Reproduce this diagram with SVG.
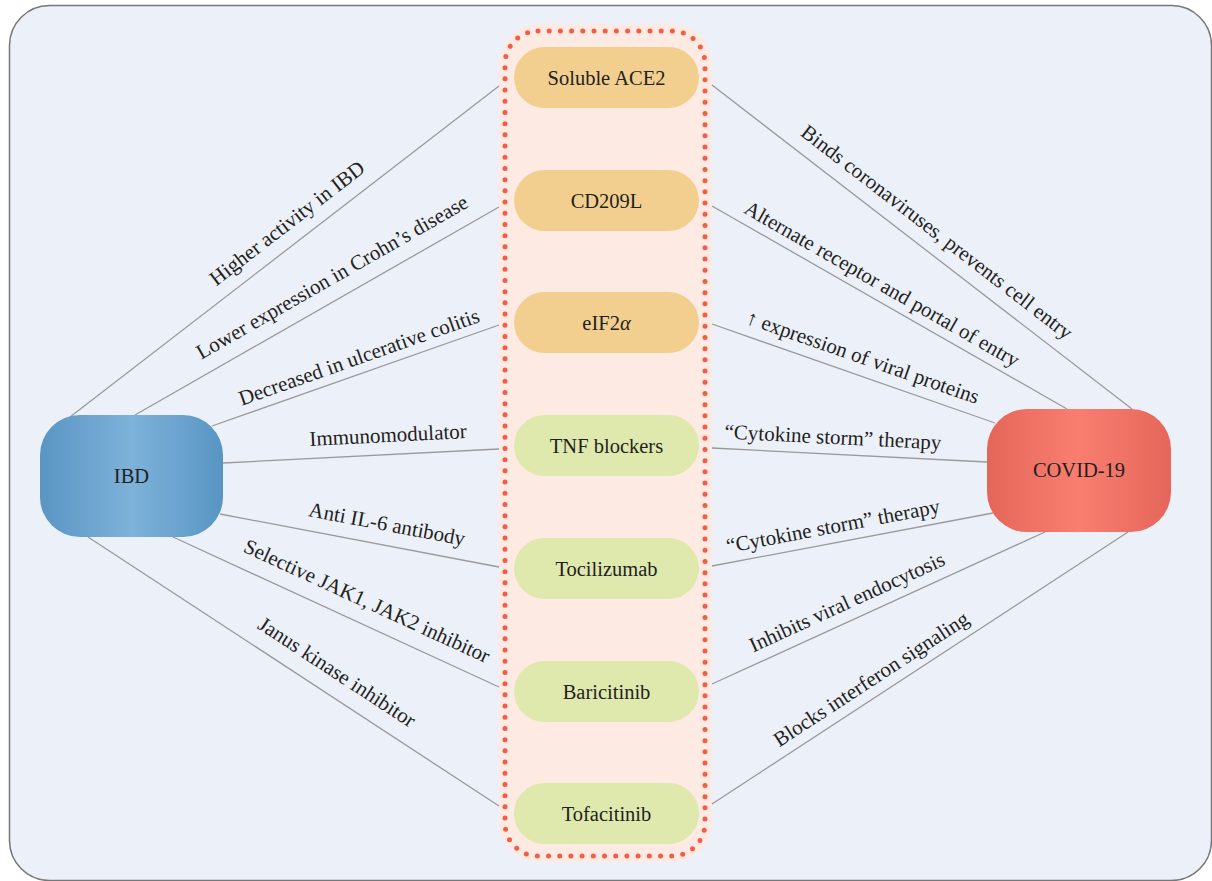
<svg xmlns="http://www.w3.org/2000/svg" width="1212" height="881" viewBox="0 0 1212 881">
<defs>
<linearGradient id="gIBD" x1="0" y1="0" x2="1" y2="0">
<stop offset="0" stop-color="#5a95c3"/><stop offset="0.5" stop-color="#7db2da"/><stop offset="1" stop-color="#5895c3"/>
</linearGradient>
<linearGradient id="gCOV" x1="0" y1="0" x2="1" y2="0">
<stop offset="0" stop-color="#e4665a"/><stop offset="0.5" stop-color="#f97e70"/><stop offset="1" stop-color="#e4665a"/>
</linearGradient>
<style>
.lbl{font-family:"Liberation Serif","Times New Roman",serif;font-size:21px;fill:#231f20;text-anchor:middle;dominant-baseline:central}
.ntx{font-family:"Liberation Serif","Times New Roman",serif;font-size:20.5px;fill:#231f20;text-anchor:middle;dominant-baseline:central}
.ln{stroke:#9a9a9a;stroke-width:1.3;fill:none}
.pO{fill:#f2cf8f}
.pG{fill:#dfe8ad}
</style>
</defs>
<rect x="9.5" y="5.5" width="1202" height="875" rx="40" fill="#ecf0f9" stroke="#777" stroke-width="1.5"/>
<g id="container">
<rect x="499" y="24" width="213" height="838" rx="40" fill="#fdebe3"/>
<rect x="505" y="31" width="200" height="825" rx="33" fill="none" stroke="#f25c48" stroke-width="5" stroke-linecap="round" stroke-dasharray="0 11.2"/>
</g>
<g id="connectors">
<line class="ln" x1="70" y1="417" x2="499" y2="86"/>
<line class="ln" x1="135" y1="415" x2="499" y2="207"/>
<line class="ln" x1="212" y1="426" x2="499" y2="325"/>
<line class="ln" x1="223" y1="463" x2="499" y2="449"/>
<line class="ln" x1="220" y1="514" x2="499" y2="567"/>
<line class="ln" x1="173" y1="537" x2="499" y2="687"/>
<line class="ln" x1="88" y1="537" x2="499" y2="806"/>
<line class="ln" x1="712" y1="85" x2="1132" y2="409"/>
<line class="ln" x1="712" y1="206" x2="1067" y2="409"/>
<line class="ln" x1="712" y1="324" x2="995" y2="423"/>
<line class="ln" x1="712" y1="448" x2="987" y2="462"/>
<line class="ln" x1="712" y1="566" x2="993" y2="513"/>
<line class="ln" x1="712" y1="684" x2="1045" y2="532"/>
<line class="ln" x1="712" y1="804" x2="1128" y2="532"/>
<text class="lbl" transform="translate(287,223) rotate(-37.65)">Higher activity in IBD</text>
<text class="lbl" transform="translate(332,277) rotate(-29.74)">Lower expression in Crohn’s disease</text>
<text class="lbl" transform="translate(359,357) rotate(-19.39)">Decreased in ulcerative colitis</text>
<text class="lbl" transform="translate(388,435) rotate(-2.9)">Immunomodulator</text>
<text class="lbl" transform="translate(387,524) rotate(10.76)">Anti IL-6 antibody</text>
<text class="lbl" transform="translate(367,601) rotate(24.7)">Selective JAK1, JAK2 inhibitor</text>
<text class="lbl" transform="translate(337,672) rotate(33.2)">Janus kinase inhibitor</text>
<text class="lbl" transform="translate(937,232) rotate(37.65)">Binds coronaviruses, prevents cell entry</text>
<text class="lbl" transform="translate(882,284) rotate(29.76)">Alternate receptor and portal of entry</text>
<text class="lbl" transform="translate(863,357) rotate(19.28)">↑ expression of viral proteins</text>
<text class="lbl" transform="translate(833,437) rotate(2.9)">“Cytokine storm” therapy</text>
<text class="lbl" transform="translate(833,526) rotate(-10.7)">“Cytokine storm” therapy</text>
<text class="lbl" transform="translate(847,602) rotate(-24.5)">Inhibits viral endocytosis</text>
<text class="lbl" transform="translate(871,679) rotate(-33.2)">Blocks interferon signaling</text>
</g>
<g id="ibd">
<rect x="40" y="415" width="183" height="122" rx="40" fill="url(#gIBD)"/>
<text class="ntx" x="131.5" y="476">IBD</text>
</g>
<g id="covid">
<rect x="987" y="409" width="184" height="123" rx="40" fill="url(#gCOV)"/>
<text class="ntx" x="1079" y="470">COVID-19</text>
</g>
<g id="ace2"><rect class="pO" x="514" y="47" width="185" height="61" rx="30.5"/><text class="ntx" x="606.5" y="77.5">Soluble ACE2</text></g>
<g id="cd209l"><rect class="pO" x="514" y="170" width="185" height="61" rx="30.5"/><text class="ntx" x="606.5" y="200.5">CD209L</text></g>
<g id="eif2a"><rect class="pO" x="514" y="292" width="185" height="61" rx="30.5"/><text class="ntx" x="606.5" y="322.5">eIF2<tspan font-style="italic">α</tspan></text></g>
<g id="tnf"><rect class="pG" x="514" y="415" width="185" height="61" rx="30.5"/><text class="ntx" x="606.5" y="445.5">TNF blockers</text></g>
<g id="tocilizumab"><rect class="pG" x="514" y="538" width="185" height="61" rx="30.5"/><text class="ntx" x="606.5" y="568.5">Tocilizumab</text></g>
<g id="baricitinib"><rect class="pG" x="514" y="661" width="185" height="61" rx="30.5"/><text class="ntx" x="606.5" y="691.5">Baricitinib</text></g>
<g id="tofacitinib"><rect class="pG" x="514" y="783" width="185" height="61" rx="30.5"/><text class="ntx" x="606.5" y="813.5">Tofacitinib</text></g>
</svg>
